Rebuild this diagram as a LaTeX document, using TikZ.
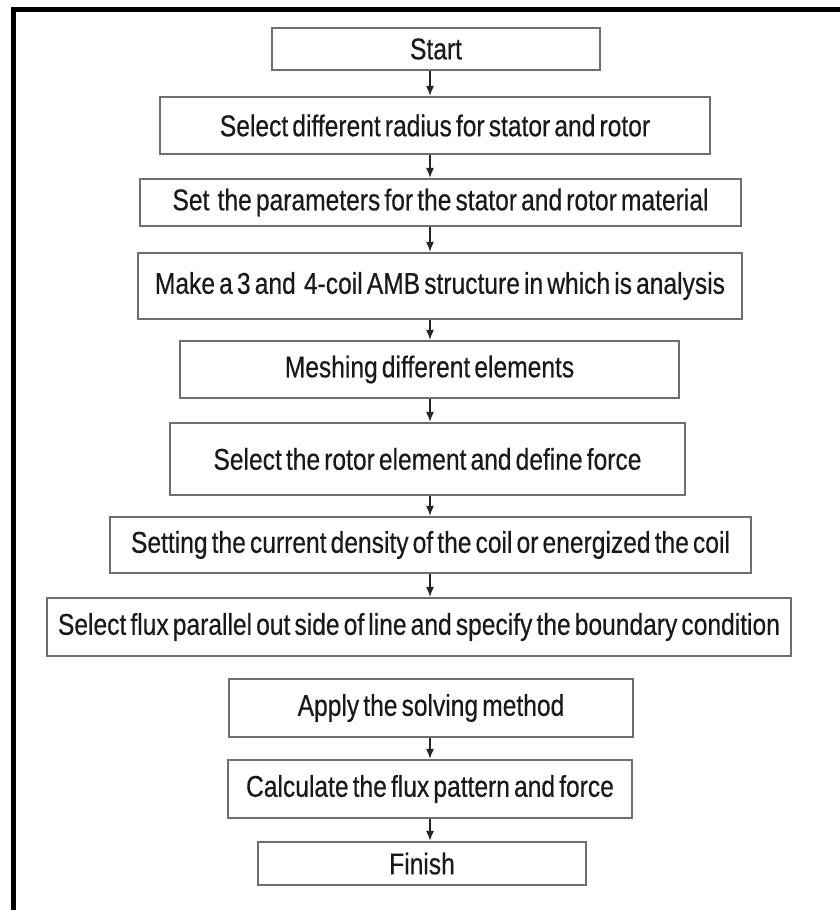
\documentclass[tikz,border=0pt]{standalone}
\usepackage{fontspec}
\setmainfont{Liberation Sans}[FakeStretch=0.82, FakeBold=0.4, WordSpace=0.6]
\usetikzlibrary{arrows.meta,positioning,calc}
\definecolor{boxgray}{RGB}{110,110,110}
\tikzset{
  stepbox/.style={draw=boxgray, line width=2.2pt, rectangle, inner sep=0pt,
    font=\fontsize{30}{34}\selectfont, text=black!90},
  flow/.style={-{Latex[length=10pt,width=8pt]}, line width=1.3pt, black!85}
}
\begin{document}
\begin{tikzpicture}[x=1pt,y=-1pt]
\useasboundingbox (0,0) rectangle (840,910);
% outer frame, left and top only
\draw[line width=5pt] (13.5,910) -- (13.5,9) -- (840,9);
\coordinate (ax) at (430,0);
% steps
\node[stepbox, minimum width=328pt, minimum height=42pt] (start)   at (436,49)    {Start};
\node[stepbox, minimum width=550pt, minimum height=57pt] (radius)  at (435,125.5) {Select different radius for stator and rotor};
\node[stepbox, minimum width=601pt, minimum height=47pt] (param)   at (440.5,202.5) {Set\ \ the parameters for the stator and rotor material};
\node[stepbox, minimum width=604pt, minimum height=66pt] (amb)     at (440,286)   {Make a 3 and\ \ 4-coil AMB structure in which is analysis};
\node[stepbox, minimum width=499pt, minimum height=57pt] (mesh)    at (429.5,369.5) {Meshing different elements};
\node[stepbox, minimum width=515pt, minimum height=72pt] (rotor)   at (427.5,459) {Select the rotor element and define force};
\node[stepbox, minimum width=641pt, minimum height=56pt] (current) at (430.5,545) {Setting the current density of the coil or energized the coil};
\node[stepbox, minimum width=744pt, minimum height=58pt] (flux)    at (419,627)   {Select flux parallel out side of line and specify the boundary condition};
\node[stepbox, minimum width=404pt, minimum height=58pt] (solve)   at (431,708)   {Apply the solving method};
\node[stepbox, minimum width=404pt, minimum height=58pt] (calc)    at (430,789)   {Calculate the flux pattern and force};
\node[stepbox, minimum width=328pt, minimum height=43pt] (finish)  at (422,863.5) {Finish};
% arrows
\foreach \a/\b in {start/radius, radius/param, param/amb, amb/mesh, mesh/rotor,
                   rotor/current, current/flux, solve/calc, calc/finish}
  \draw[flow] (\a.south -| ax) -- (\b.north -| ax);
\end{tikzpicture}
\end{document}
